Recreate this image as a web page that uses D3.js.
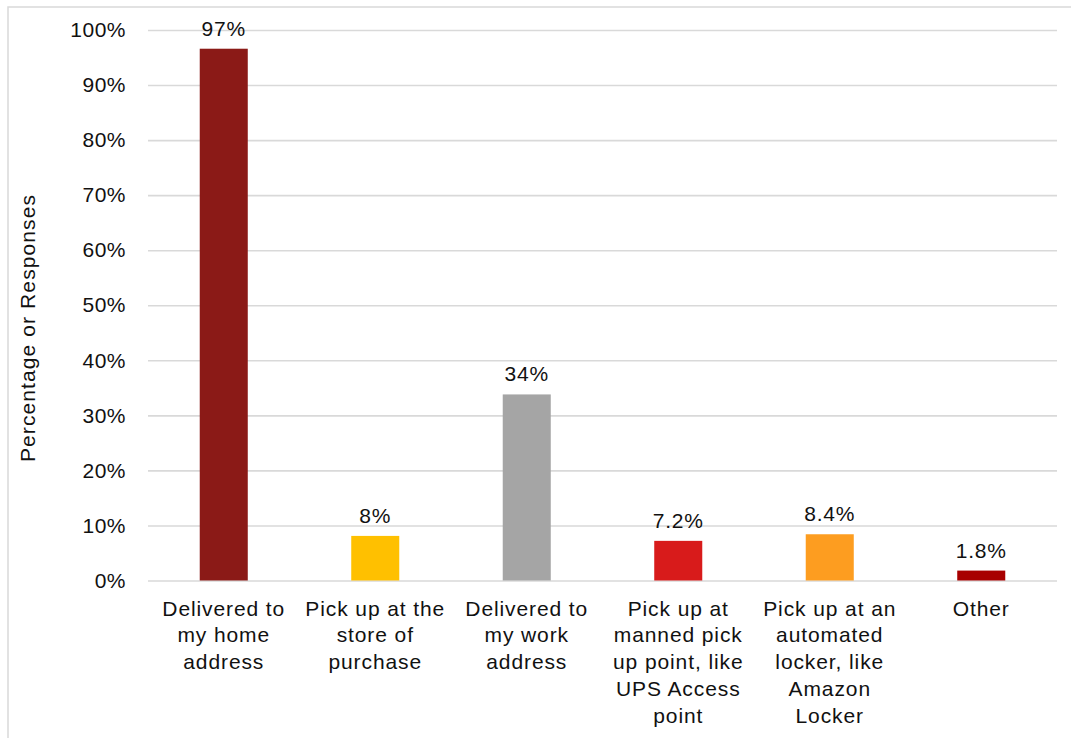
<!DOCTYPE html>
<html><head><meta charset="utf-8">
<script src="https://cdn.jsdelivr.net/npm/d3@7"></script>
<style>body{margin:0;background:#fff}svg{display:block;font-family:"Liberation Sans",Arial,sans-serif}</style>
</head><body><svg id="c" width="1071" height="738"></svg>
<script>
const categories = [
  ["Delivered to","my home","address"],
  ["Pick up at the","store of","purchase"],
  ["Delivered to","my work","address"],
  ["Pick up at","manned pick","up point, like","UPS Access","point"],
  ["Pick up at an","automated","locker, like","Amazon","Locker"],
  ["Other"]
];
const values = [96.6, 8.1, 33.8, 7.2, 8.4, 1.8];
const valueLabels = ["97%", "8%", "34%", "7.2%", "8.4%", "1.8%"];
const colors = ["#8B1A17", "#FFC000", "#A5A5A5", "#D81B1B", "#FD9D20", "#A80000"];
const yTicks = [0,10,20,30,40,50,60,70,80,90,100];
const yTitle = "Percentage or Responses";

const svg = d3.select("#c");
const m = {left:148, right:1057, top:30, bottom:580.5};
svg.append("rect").attr("x",8).attr("y",7).attr("width",1080).attr("height",760)
  .attr("fill","none").attr("stroke","#d9d9d9").attr("stroke-width",1.5);

const x = d3.scaleBand().domain(d3.range(categories.length)).range([m.left,m.right]).paddingInner(0.683).paddingOuter(0.3415);
const y = d3.scaleLinear().domain([0,100]).range([m.bottom,m.top]);

const yAxis = d3.axisLeft(y).tickValues(yTicks).tickFormat(d=>d+"%").tickSize(-(m.right-m.left)).tickPadding(22);
const ga = svg.append("g").attr("transform",`translate(${m.left},0)`).call(yAxis);
ga.select(".domain").remove();
ga.selectAll(".tick line").attr("stroke","#d9d9d9").attr("stroke-width",1.6);
ga.selectAll(".tick text").attr("font-size",21).attr("letter-spacing",0.5).attr("fill","#111")
  .attr("font-family","Liberation Sans, Arial, sans-serif");

svg.append("g").selectAll("rect").data(values).join("rect")
  .attr("x",(d,i)=>x(i)).attr("width",x.bandwidth())
  .attr("y",d=>y(d)).attr("height",d=>y(0)-y(d))
  .attr("fill",(d,i)=>colors[i]);

svg.append("g").selectAll("text").data(values).join("text")
  .attr("x",(d,i)=>x(i)+x.bandwidth()/2).attr("y",d=>y(d)-13)
  .attr("text-anchor","middle").attr("font-size",21).attr("letter-spacing",0.8).attr("fill","#111")
  .text((d,i)=>valueLabels[i]);

const cg = svg.append("g").selectAll("text").data(categories).join("text")
  .attr("text-anchor","middle").attr("font-size",21).attr("letter-spacing",0.9).attr("fill","#111")
  .attr("transform",(d,i)=>`translate(${x(i)+x.bandwidth()/2},615.5)`);
cg.selectAll("tspan").data(d=>d).join("tspan")
  .attr("x",0).attr("dy",(d,j)=>j===0?0:26.8).text(d=>d);

svg.append("text").attr("transform","translate(34.5,328) rotate(-90)")
  .attr("text-anchor","middle").attr("font-size",21).attr("letter-spacing",1.1).attr("fill","#111").text(yTitle);
</script></body></html>
